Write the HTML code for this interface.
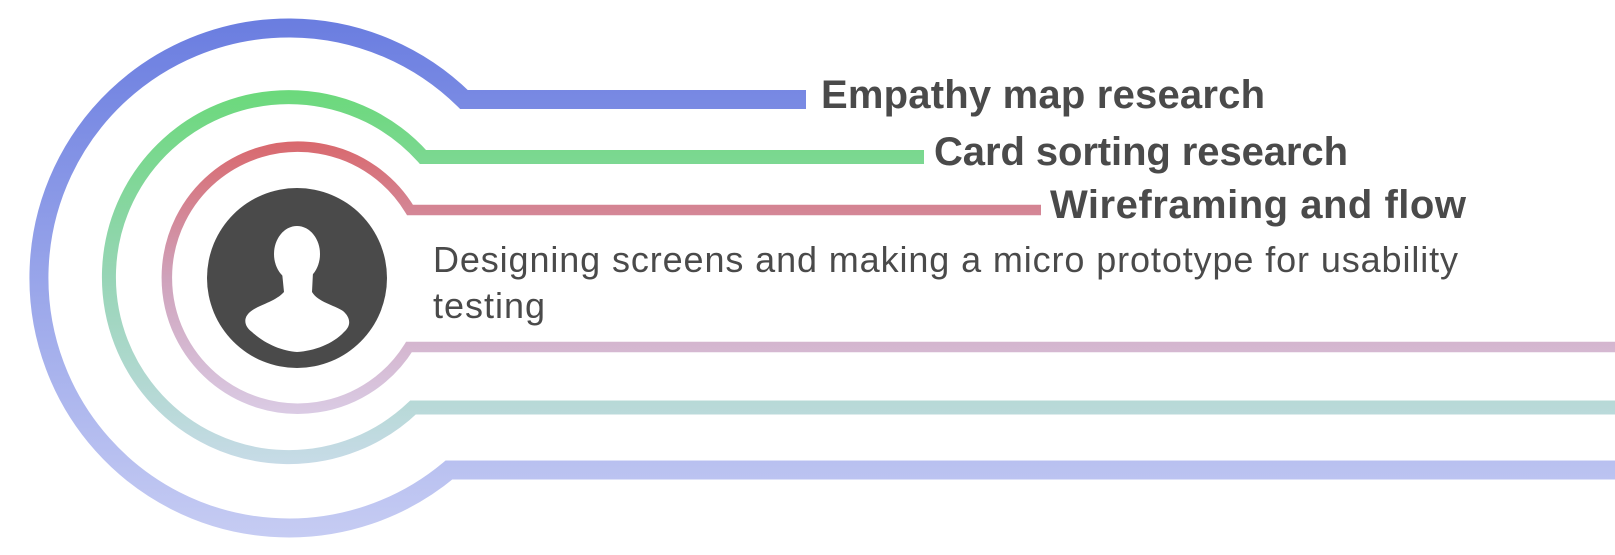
<!DOCTYPE html>
<html><head><meta charset="utf-8"><style>
html,body{margin:0;padding:0;background:#fff;width:1615px;height:555px;overflow:hidden}
svg{display:block}
</style></head><body>
<svg width="1615" height="555" viewBox="0 0 1615 555" xmlns="http://www.w3.org/2000/svg">
<defs>
<linearGradient id="gb" gradientUnits="userSpaceOnUse" x1="0" y1="18" x2="0" y2="538">
<stop offset="0" stop-color="#6a7de0"/><stop offset="1" stop-color="#c6ccf3"/></linearGradient>
<linearGradient id="gg" gradientUnits="userSpaceOnUse" x1="0" y1="90" x2="0" y2="464">
<stop offset="0" stop-color="#6bd97b"/><stop offset="0.5" stop-color="#97d5b6"/><stop offset="1" stop-color="#c7dbe7"/></linearGradient>
<linearGradient id="gr" gradientUnits="userSpaceOnUse" x1="0" y1="142" x2="0" y2="414">
<stop offset="0" stop-color="#d9686d"/><stop offset="0.5" stop-color="#cfa2bb"/><stop offset="1" stop-color="#dacbe4"/></linearGradient>
</defs>
<path d="M806 99.5 L466 99.5 L464 99.5 A250 250 0 1 0 449 470 L1615 470" fill="none" stroke="url(#gb)" stroke-width="19"/>
<path d="M924 157 L425 157 L423 157 A180 180 0 1 0 413 407.5 L1615 407.5" fill="none" stroke="url(#gg)" stroke-width="14"/>
<path d="M1041 210 L413 210 L410 210 A131 131 0 1 0 409 347 L1615 347" fill="none" stroke="url(#gr)" stroke-width="10.5"/>
<circle cx="297" cy="278" r="90" fill="#4a4a4a"/>
<ellipse cx="297" cy="254" rx="23" ry="28" fill="#fff"/>
<path d="M282 272 L284 292 C275 302 258 305 250 312 C243 318 244 326 252 332 C265 344 282 351 297 352 C314 351 333 344 344 332 C352 325 350 317 343 311 C334 305 318 302 312 292 L313 272 Z" fill="#fff"/>
<g font-family="Liberation Sans, Arial, sans-serif" fill="#4a4a4a">
<text x="821" y="108" font-size="40" font-weight="bold" textLength="444" lengthAdjust="spacing">Empathy map research</text>
<text x="934" y="165" font-size="40" font-weight="bold" textLength="414" lengthAdjust="spacing">Card sorting research</text>
<text x="1050" y="218" font-size="40" font-weight="bold" textLength="416" lengthAdjust="spacing">Wireframing and flow</text>
<text x="433" y="272" font-size="36" textLength="1025" lengthAdjust="spacing">Designing screens and making a micro prototype for usability</text>
<text x="433" y="318" font-size="36" textLength="112" lengthAdjust="spacing">testing</text>
</g>
</svg>
</body></html>
